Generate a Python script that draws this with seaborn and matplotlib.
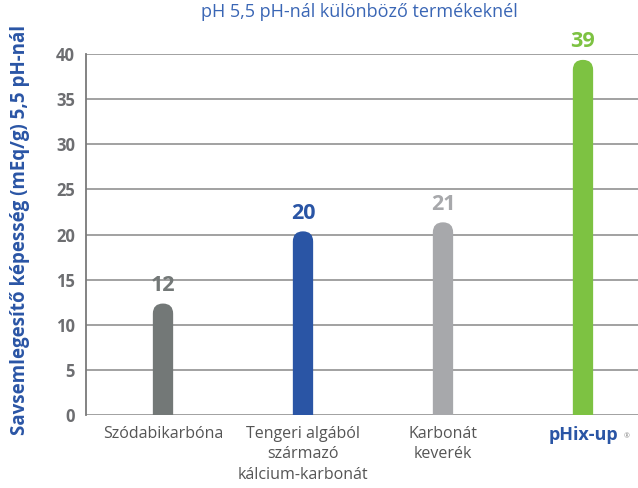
import matplotlib
matplotlib.use("Agg")
import matplotlib.pyplot as plt
import seaborn as sns
import pandas as pd
from matplotlib.patches import FancyBboxPatch

categories = ["Szódabikarbóna", "Tengeri algából\nszármazó\nkálcium-karbonát", "Karbonát\nkeverék", "pHix-up"]
values = [12, 20, 21, 39]
colors = ["#737877", "#2a55a5", "#a7a8ab", "#7dc242"]
title = "pH 5,5 pH-nál különböző termékeknél"
ylabel = "Savsemlegesítő képesség (mEq/g) 5,5 pH-nál"
yticks = [0, 5, 10, 15, 20, 25, 30, 35, 40]

sns.set_theme(style="white")
plt.rcParams['font.family'] = ['Open Sans', 'DejaVu Sans']

df = pd.DataFrame({"cat": categories, "val": values})

fig = plt.figure(figsize=(6.38, 4.88), dpi=100)
ax = fig.add_axes([86/638, 1 - 415/488, 1 - 86/638, (415 - 54) / 488])

sns.barplot(data=df, x="cat", y="val", hue="cat", palette=colors, width=0.145,
            legend=False, ax=ax, saturation=1, zorder=3)

ax.set_xlim(-0.55, 3.393)
ax.set_ylim(0, 40)

# replace bars with rounded-top bars
xpix_per_unit = 140.0
ypix_per_unit = 361.0 / 40
aspect = xpix_per_unit / ypix_per_unit
for p, c, v in zip(list(ax.patches), colors, values):
    x0 = p.get_x()
    w = p.get_width()
    p.set_visible(False)
    r = w / 2
    box = FancyBboxPatch((x0, -5), w, v + 5 + 0.35,
                         boxstyle=f"round,pad=0,rounding_size={r}",
                         mutation_aspect=aspect, facecolor=c, edgecolor="none",
                         zorder=3, clip_on=True)
    ax.add_patch(box)
    ax.text(x0 + w / 2, v + 1.2, str(v), ha="center", va="bottom",
            fontsize=15.5, fontweight="bold", color=c, zorder=4)

ax.set_yticks(yticks)
ax.set_yticklabels([str(t) for t in yticks], fontsize=12, fontweight="bold", color="#6d6e71")
ax.yaxis.grid(True, color="#9a9a9a", linewidth=1.3, zorder=0)
ax.set_axisbelow(True)
for s in ["top", "right", "bottom"]:
    ax.spines[s].set_visible(False)
ax.spines["left"].set_color("#7a7a7a")
ax.spines["left"].set_linewidth(1.3)
ax.tick_params(axis="y", length=0, pad=8)
ax.tick_params(axis="x", length=0, pad=8)
ax.set_xlabel("")
ax.set_ylabel("")

labels = ax.set_xticklabels(categories, fontsize=11.5, color="#555555", linespacing=1.35)
labels[3].set_color("#2a55a5")
labels[3].set_fontweight("bold")
labels[3].set_fontsize(13)
ax.text(3.29, -2.4, "®", fontsize=5, color="#888888", ha="left", va="center", clip_on=False)

fig.text(20 / 638, 1 - 230 / 488, ylabel, rotation=90, ha="center", va="center",
         fontsize=13.5, fontweight="bold", color="#2a55a5")
fig.text(359 / 638, 1 - 17 / 488, title, ha="center", va="baseline",
         fontsize=13, color="#3a66b5")

fig.savefig("out.png", dpi=100)
